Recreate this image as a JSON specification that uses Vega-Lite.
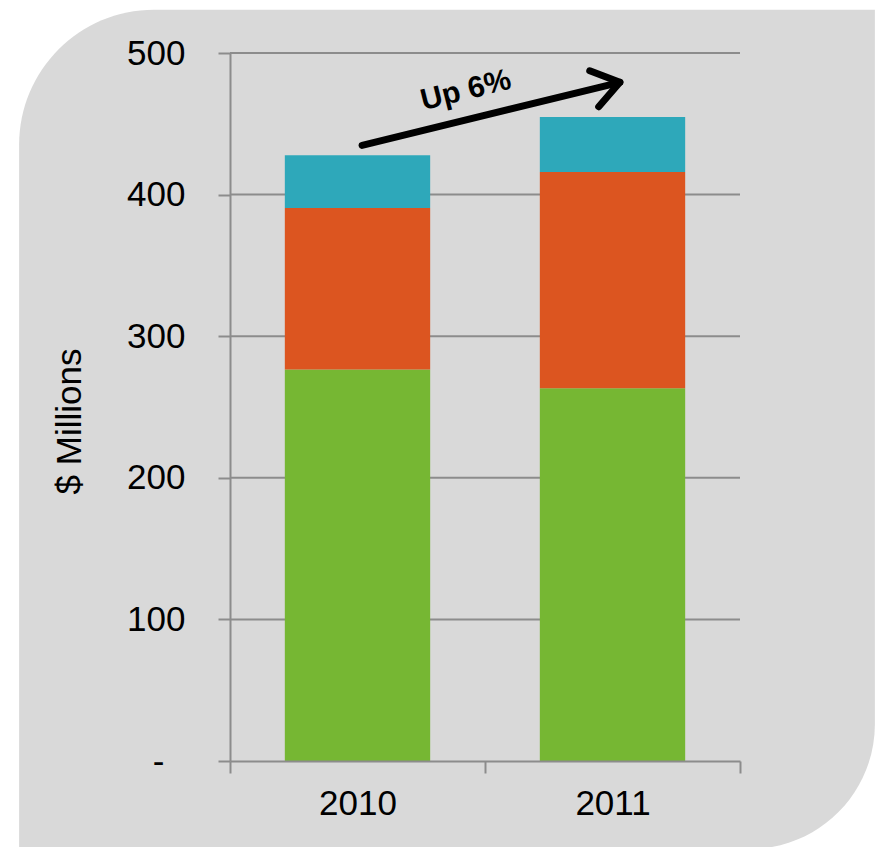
{
  "$schema": "https://vega.github.io/schema/vega-lite/v6.json",
  "autosize": {"type": "none"},
  "width": 510,
  "height": 708,
  "padding": {"left": 230, "top": 53, "right": 140, "bottom": 86},
  "background": "#ffffff",
  "config": {
    "view": {"stroke": null},
    "font": "Liberation Sans",
    "axis": {
      "domainColor": "#8c8c8c",
      "domainWidth": 2,
      "tickColor": "#8c8c8c",
      "tickWidth": 2,
      "tickSize": 12,
      "labelColor": "#000000",
      "labelFont": "Liberation Sans",
      "labelFontSize": 35,
      "titleColor": "#000000",
      "titleFont": "Liberation Sans",
      "titleFontWeight": "normal"
    }
  },
  "datasets": {
    "bars": [
      {"year": "2010", "segment": "Segment 1", "order": 1, "value": 276.5},
      {"year": "2010", "segment": "Segment 2", "order": 2, "value": 114.1},
      {"year": "2010", "segment": "Segment 3", "order": 3, "value": 37.2},
      {"year": "2011", "segment": "Segment 1", "order": 1, "value": 263.2},
      {"year": "2011", "segment": "Segment 2", "order": 2, "value": 152.8},
      {"year": "2011", "segment": "Segment 3", "order": 3, "value": 38.8}
    ],
    "grid": [
      {"value": 100}, {"value": 200}, {"value": 300}, {"value": 400}, {"value": 500}
    ],
    "arrow": [
      {"x1": 0.518, "y1": 434.8, "x2": 1.529, "y2": 479.3, "tx": 0.925, "ty": 473.5, "label": "Up 6%"}
    ]
  },
  "resolve": {"scale": {"x": "independent"}},
  "layer": [
    {
      "data": {"values": [{}]},
      "mark": {"type": "rect", "color": "#d9d9d9", "cornerRadiusTopLeft": 135, "cornerRadiusBottomRight": 125, "clip": false},
      "encoding": {
        "x": {"datum": -0.827, "type": "quantitative", "scale": {"domain": [0, 2], "nice": false, "zero": false}, "axis": null},
        "x2": {"datum": 2.529},
        "y": {"datum": 530.5, "type": "quantitative", "scale": {"domain": [0, 500], "nice": false}},
        "y2": {"datum": -62.1}
      }
    },
    {
      "data": {"name": "grid"},
      "mark": {"type": "rule", "color": "#8c8c8c", "strokeWidth": 2},
      "encoding": {
        "y": {"field": "value", "type": "quantitative"}
      }
    },
    {
      "data": {"name": "bars"},
      "mark": {"type": "bar", "width": {"band": 0.57}},
      "encoding": {
        "x": {
          "field": "year",
          "type": "nominal",
          "scale": {"paddingInner": 0, "paddingOuter": 0},
          "axis": {
            "title": null,
            "labelAngle": 0,
            "tickBand": "extent",
            "labelPadding": 13,
            "grid": false,
            "zindex": 1
          }
        },
        "y": {
          "field": "value",
          "type": "quantitative",
          "aggregate": "sum",
          "stack": "zero",
          "scale": {"domain": [0, 500], "nice": false},
          "axis": {
            "title": "$ Millions",
            "titleFontSize": 35,
            "titlePadding": 39,
            "titleY": 368,
            "values": [0, 100, 200, 300, 400, 500],
            "labelExpr": "datum.value == 0 ? '-' : datum.label",
            "labelPadding": {"condition": {"test": "datum.value == 0", "value": 54}, "value": 33},
            "grid": false,
            "zindex": 1
          }
        },
        "color": {
          "field": "segment",
          "type": "nominal",
          "scale": {"domain": ["Segment 1", "Segment 2", "Segment 3"], "range": ["#76b733", "#dc5520", "#2ea8ba"]},
          "legend": null
        },
        "order": {"field": "order", "type": "quantitative"}
      }
    },
    {
      "data": {"name": "arrow"},
      "mark": {"type": "rule", "color": "#000000", "strokeWidth": 7, "strokeCap": "round"},
      "encoding": {
        "x": {"field": "x1", "type": "quantitative", "scale": {"domain": [0, 2], "nice": false, "zero": false}, "axis": null},
        "x2": {"field": "x2"},
        "y": {"field": "y1", "type": "quantitative"},
        "y2": {"field": "y2"}
      }
    },
    {
      "data": {"name": "arrow"},
      "mark": {"type": "point", "shape": "M-1,-0.7L0,0L-1,0.7", "filled": false, "stroke": "#000000", "strokeWidth": 7, "strokeCap": "round", "strokeJoin": "round", "size": 2800, "angle": -14, "opacity": 1},
      "encoding": {
        "x": {"field": "x2", "type": "quantitative", "scale": {"domain": [0, 2], "nice": false, "zero": false}, "axis": null},
        "y": {"field": "y2", "type": "quantitative"}
      }
    },
    {
      "data": {"name": "arrow"},
      "mark": {"type": "text", "font": "Liberation Sans", "fontWeight": "bold", "fontSize": 30, "angle": -14, "align": "center", "baseline": "middle", "color": "#000000"},
      "encoding": {
        "x": {"field": "tx", "type": "quantitative", "scale": {"domain": [0, 2], "nice": false, "zero": false}, "axis": null},
        "y": {"field": "ty", "type": "quantitative"},
        "text": {"field": "label"}
      }
    }
  ]
}
